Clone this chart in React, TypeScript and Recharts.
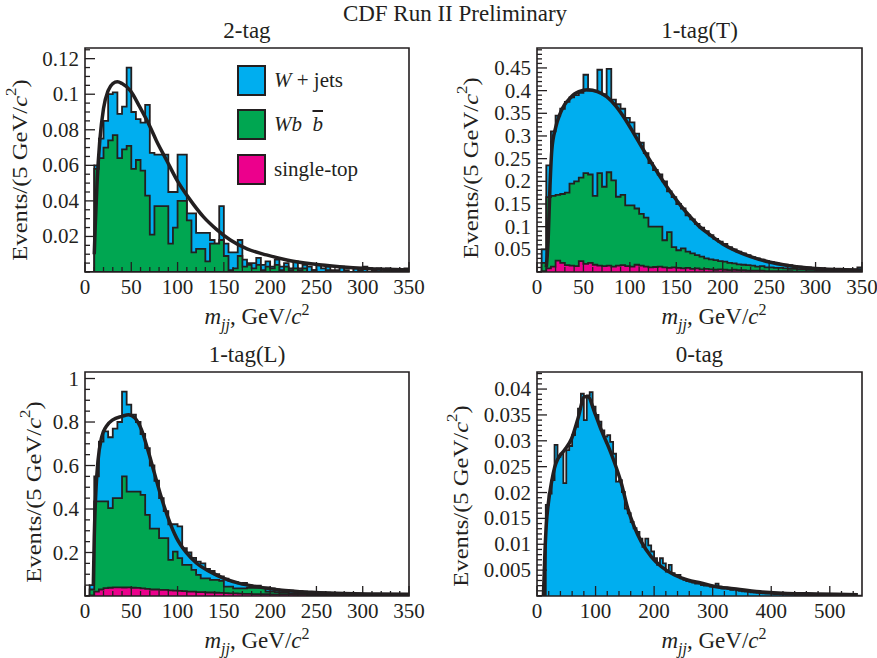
import React from "react";
import { ComposedChart, Area, Line, XAxis, YAxis, ReferenceArea, Legend } from "recharts";

const FONT = '"Liberation Serif", "Times New Roman", serif';
const INK = "#231f20";
const BLUE = "#00aeef";
const GREEN = "#00a651";
const PINK = "#ec008c";

// ---- 2-tag: stacked levels per 5 GeV bin (W+jets top, Wbb top, single-top) ----
const p1Total = [
  0, 0, 0.06, 0.075, 0.085, 0.1, 0.101, 0.089, 0.093, 0.115,
  0.09, 0.086, 0.084, 0.094, 0.067, 0.066, 0.066, 0.066, 0.045, 0.045,
  0.066, 0.066, 0.033, 0.033, 0.022, 0.022, 0.022, 0.018, 0.016, 0.037,
  0.016, 0.011, 0.011, 0.018, 0.007, 0.005, 0.005, 0.008, 0.004, 0.006,
  0.003, 0.007, 0.003, 0.005, 0.002, 0.006, 0.002, 0.004, 0.003, 0.001,
  0.004, 0.002, 0.003, 0.001, 0.001, 0.003, 0.001, 0, 0.002, 0.001,
  0.003, 0, 0.001, 0.002, 0, 0.002, 0, 0.001, 0, 0.002,
];
const p1Wbb = [
  0, 0, 0.058, 0.064, 0.07, 0.074, 0.077, 0.064, 0.069, 0.071,
  0.058, 0.063, 0.057, 0.043, 0.021, 0.037, 0.037, 0.037, 0.016, 0.025,
  0.04, 0.04, 0.029, 0.011, 0.013, 0.013, 0.006, 0.016, 0.016, 0.018,
  0.009, 0.001, 0.002, 0.009, 0.003, 0.004, 0.002, 0.004, 0.001, 0.003,
  0.002, 0.004, 0.001, 0.003, 0.001, 0.002, 0.001, 0.002, 0, 0.001,
  0, 0, 0.001, 0, 0, 0, 0, 0, 0, 0,
  0, 0, 0, 0, 0, 0, 0, 0, 0, 0,
];
const p1Top = new Array(70).fill(0);
const p1Fit: [number, number][] = [
  [10, 0.01], [11, 0.025], [13, 0.05], [16, 0.074], [20, 0.092], [25, 0.102], [30, 0.106],
  [35, 0.107], [40, 0.106], [49, 0.102], [59, 0.093], [70, 0.082], [77, 0.074], [88, 0.063],
  [99, 0.052], [113, 0.041], [128, 0.031], [142, 0.024], [157, 0.018], [175, 0.013],
  [196, 0.0096], [218, 0.0068], [247, 0.0045], [275, 0.003], [304, 0.0019], [350, 0.0011],
];

// ---- 1-tag(T) ----
const p2Total = [
  0, 0.05, 0.235, 0.31, 0.345, 0.36, 0.375, 0.385, 0.39, 0.395,
  0.435, 0.4, 0.4, 0.446, 0.392, 0.448, 0.38, 0.37, 0.36, 0.34,
  0.33, 0.305, 0.285, 0.262, 0.24, 0.225, 0.215, 0.2, 0.178, 0.165,
  0.15, 0.14, 0.125, 0.116, 0.106, 0.098, 0.09, 0.081, 0.073, 0.067,
  0.062, 0.055, 0.05, 0.045, 0.041, 0.037, 0.033, 0.03, 0.027, 0.024,
  0.022, 0.02, 0.018, 0.016, 0.015, 0.013, 0.012, 0.011, 0.01, 0.009,
  0.008, 0.008, 0.007, 0.006, 0.006, 0.005, 0.006, 0.005, 0.004, 0.01,
];
const p2Wbb = [
  0, 0.02, 0.165, 0.168, 0.17, 0.172, 0.175, 0.195, 0.2, 0.208,
  0.218, 0.215, 0.168, 0.218, 0.188, 0.22, 0.202, 0.166, 0.17, 0.147,
  0.147, 0.14, 0.128, 0.12, 0.1, 0.1, 0.1, 0.07, 0.088, 0.055,
  0.048, 0.052, 0.045, 0.041, 0.037, 0.034, 0.03, 0.028, 0.026, 0.024,
  0.023, 0.02, 0.019, 0.017, 0.016, 0.015, 0.014, 0.012, 0.013, 0.01,
  0.01, 0.009, 0.009, 0.008, 0.007, 0.007, 0.006, 0.006, 0.005, 0.005,
  0.004, 0.004, 0.004, 0.003, 0.003, 0.003, 0.003, 0.003, 0.003, 0.003,
];
const p2Top = [
  0, 0.002, 0.008, 0.012, 0.025, 0.02, 0.015, 0.014, 0.013, 0.024,
  0.018, 0.02, 0.016, 0.014, 0.013, 0.014, 0.012, 0.014, 0.015, 0.013,
  0.012, 0.016, 0.014, 0.012, 0.01, 0.011, 0.012, 0.01, 0.009, 0.01,
  0.009, 0.008, 0.009, 0.007, 0.008, 0.006, 0.007, 0.006, 0.005, 0.006,
  0.005, 0.004, 0.005, 0.004, 0.004, 0.003, 0.003, 0.003, 0.003, 0.002,
  0.002, 0.002, 0.002, 0.002, 0.002, 0.001, 0.001, 0.001, 0.001, 0.001,
  0.001, 0.001, 0.001, 0.001, 0.001, 0.001, 0.001, 0.001, 0.001, 0.001,
];
const p2Fit: [number, number][] = [
  [10, 0.01], [12, 0.07], [14, 0.19], [16, 0.27], [20, 0.318], [25, 0.35], [30, 0.37],
  [35, 0.382], [40, 0.392], [45, 0.398], [55, 0.402], [65, 0.398], [75, 0.387], [85, 0.366],
  [95, 0.337], [105, 0.303], [115, 0.268], [125, 0.235], [135, 0.203], [145, 0.173],
  [155, 0.146], [165, 0.122], [175, 0.1], [185, 0.084], [200, 0.062], [215, 0.046],
  [230, 0.034], [250, 0.022], [270, 0.0145], [290, 0.0095], [310, 0.0065], [330, 0.0052], [350, 0.0045],
];

// ---- 1-tag(L) ----
const p3Total = [
  0, 0.05, 0.55, 0.71, 0.757, 0.73, 0.77, 0.8, 0.94, 0.88,
  0.834, 0.8, 0.745, 0.68, 0.6, 0.53, 0.45, 0.39, 0.33, 0.33,
  0.32, 0.22, 0.2, 0.175, 0.158, 0.15, 0.125, 0.115, 0.1, 0.09,
  0.08, 0.07, 0.065, 0.058, 0.06, 0.05, 0.045, 0.048, 0.04, 0.04,
  0.035, 0.03, 0.028, 0.027, 0.025, 0.022, 0.022, 0.02, 0.019, 0.018,
  0.017, 0.016, 0.015, 0.014, 0.014, 0.013, 0.012, 0.012, 0.011, 0.011,
  0.01, 0.01, 0.009, 0.009, 0.009, 0.008, 0.008, 0.008, 0.007, 0.007,
];
const p3Wbb = [
  0, 0.03, 0.435, 0.435, 0.435, 0.404, 0.45, 0.45, 0.55, 0.48,
  0.48, 0.48, 0.465, 0.373, 0.31, 0.31, 0.266, 0.266, 0.166, 0.204,
  0.174, 0.143, 0.143, 0.12, 0.097, 0.081, 0.081, 0.074, 0.074, 0.07,
  0.043, 0.043, 0.035, 0.035, 0.035, 0.038, 0.038, 0.038, 0.036, 0.02,
  0.02, 0.018, 0.015, 0.014, 0.012, 0.011, 0.011, 0.01, 0.009, 0.009,
  0.008, 0.008, 0.007, 0.007, 0.007, 0.006, 0.006, 0.006, 0.005, 0.005,
  0.005, 0.005, 0.004, 0.004, 0.004, 0.004, 0.004, 0.003, 0.003, 0.003,
];
const p3Top = [
  0, 0.003, 0.02, 0.03, 0.036, 0.038, 0.04, 0.04, 0.039, 0.04,
  0.038, 0.037, 0.035, 0.033, 0.03, 0.03, 0.028, 0.028, 0.026, 0.025,
  0.024, 0.022, 0.02, 0.02, 0.018, 0.018, 0.016, 0.016, 0.015, 0.014,
  0.013, 0.012, 0.012, 0.011, 0.01, 0.01, 0.009, 0.009, 0.008, 0.008,
  0.007, 0.007, 0.006, 0.006, 0.006, 0.005, 0.005, 0.005, 0.004, 0.004,
  0.004, 0.004, 0.003, 0.003, 0.003, 0.003, 0.003, 0.003, 0.003, 0.003,
  0.003, 0.002, 0.002, 0.002, 0.002, 0.002, 0.002, 0.002, 0.002, 0.002,
];
const p3Fit: [number, number][] = [
  [9, 0.05], [10, 0.27], [12, 0.5], [14, 0.62], [18, 0.73], [23, 0.78], [30, 0.81],
  [40, 0.826], [47, 0.834], [54, 0.818], [61, 0.765], [68, 0.67], [75, 0.565], [82, 0.46],
  [90, 0.357], [99, 0.266], [110, 0.197], [120, 0.153], [135, 0.112], [150, 0.081],
  [167, 0.058], [185, 0.043], [210, 0.028], [245, 0.017], [280, 0.011], [315, 0.009], [350, 0.0077],
];

// ---- 0-tag (W+jets only), 5 GeV bins up to 555 ----
const p4Total = [
  0, 0, 0, 0.0176, 0.0198, 0.0224, 0.0292, 0.0269, 0.0275, 0.0218,
  0.0282, 0.029, 0.0311, 0.0327, 0.0362, 0.0391, 0.034, 0.0388, 0.0394, 0.0366,
  0.035, 0.0337, 0.032, 0.0308, 0.0311, 0.0298, 0.0275, 0.0221, 0.0224, 0.0201,
  0.0169, 0.016, 0.0143, 0.0131, 0.0124, 0.0111, 0.0095, 0.0111, 0.0098, 0.0086,
  0.0073, 0.006, 0.0073, 0.0063, 0.0047, 0.006, 0.0044, 0.0041, 0.0041, 0.0034,
  0.0031, 0.0029, 0.0028, 0.0026, 0.0024, 0.0024, 0.0021, 0.002, 0.0021, 0.0018,
  0.0019, 0.0024, 0.0018, 0.0015, 0.0016, 0.0014, 0.0012, 0.0013, 0.0011, 0.001,
  0.0009, 0.00085, 0.0008, 0.0007, 0.00065, 0.0006, 0.00055, 0.0005, 0.00048, 0.00045,
  0.0004, 0.00038, 0.00035, 0.00033, 0.0003, 0.00028, 0.00027, 0.00025, 0.00023, 0.00022,
  0.0002, 0.0002, 0.00018, 0.00017, 0.00016, 0.00015, 0.00014, 0.00014, 0.00013, 0.00012,
  0.00012, 0.0001, 0.0001, 0.0001, 0.0001, 0.0001, 0.0001, 0.00009, 0.00009, 0.00008,
  0.00008,
];
const p4Fit: [number, number][] = [
  [11, 0.0002], [13.6, 0.0086], [16, 0.014], [19, 0.0176], [25, 0.0221], [30, 0.0248],
  [36, 0.0266], [47, 0.0282], [59, 0.0304], [70, 0.0343], [81, 0.0385], [87, 0.0385],
  [98, 0.0356], [110, 0.032], [121, 0.0291], [132, 0.0259], [144, 0.0218], [155, 0.0169],
  [166, 0.0134], [178, 0.0105], [195, 0.0076], [212, 0.0057], [234, 0.0041], [257, 0.0031],
  [280, 0.0025], [302, 0.0019], [336, 0.0014], [381, 0.0008], [427, 0.0005], [478, 0.0004], [548, 0.00026],
];

// axis labels
const xMajor350 = [0, 50, 100, 150, 200, 250, 300, 350];
const xMajor555 = [0, 100, 200, 300, 400, 500];
const p1YMajor = [0.02, 0.04, 0.06, 0.08, 0.1, 0.12];
const p2YMajor = [0.05, 0.1, 0.15, 0.2, 0.25, 0.3, 0.35, 0.4, 0.45];
const p3YMajor = [0.2, 0.4, 0.6, 0.8, 1];
const p4YMajor = [0.005, 0.01, 0.015, 0.02, 0.025, 0.03, 0.035, 0.04];

const legendItems = [
  { name: "W+jets", color: BLUE },
  { name: "Wbb", color: GREEN },
  { name: "single-top", color: PINK },
];

function histRows(width: number, series: Record<string, number[]>) {
  const keys = Object.keys(series);
  const n = series[keys[0]].length;
  const rows: any[] = [];
  for (let i = 0; i <= n; i++) {
    const row: any = { x: i * width };
    keys.forEach((k) => (row[k] = series[k][Math.min(i, n - 1)]));
    rows.push(row);
  }
  return rows;
}

const fitRows = (pts: [number, number][]) => pts.map(([x, y]) => ({ x, fit: y }));

function tickList(max: number, step: number) {
  const out: number[] = [];
  for (let i = 0; i * step <= max + 1e-9; i++) out.push(+(i * step).toFixed(6));
  return out;
}

const fmt = (v: number) => String(+v.toFixed(4));
const isMajor = (list: number[], v: number) => list.some((m) => Math.abs(m - v) < 1e-9);

function LegendBox() {
  const rows = [
    { top: 0, color: BLUE, label: <><i>W</i> + jets</> },
    { top: 44, color: GREEN, label: <><i>Wb</i>&nbsp;&nbsp;<i style={{ textDecoration: "overline" }}>b</i></> },
    { top: 89, color: PINK, label: <>single-top</> },
  ];
  return (
    <div style={{ position: "relative", width: 160, height: 122, fontFamily: FONT, fontSize: 21, color: INK }}>
      {rows.map((r, i) => (
        <div key={legendItems[i].name}>
          <div style={{ position: "absolute", left: 0, top: r.top, width: 25, height: 27, background: r.color, border: `2px solid ${INK}` }} />
          <div style={{ position: "absolute", left: 37, top: r.top + 2, lineHeight: "26px", whiteSpace: "nowrap" }}>{r.label}</div>
        </div>
      ))}
    </div>
  );
}

type PanelProps = {
  left: number; top: number; width: number; height: number;
  plotLeft: number; plotRight: number; plotTop: number; plotBottom: number;
  rows: any[]; fit: { x: number; fit: number }[];
  layers: { key: string; color: string }[];
  xDomain: [number, number]; xMajor: number[]; xMinor: number;
  yDomain: [number, number]; yMajor: number[]; yMinor: number;
  title: string; yTitle: [number, number]; xTitle: [number, number];
  legend?: boolean;
};

function Panel(p: PanelProps) {
  const XH = 60;
  const xTicks = tickList(p.xDomain[1], p.xMinor);
  const yTicks = tickList(p.yDomain[1], p.yMinor);
  const yTick = (t: any) => {
    const v = t.payload.value;
    const major = isMajor(p.yMajor, v);
    return (
      <g>
        <line x1={p.plotLeft} x2={p.plotLeft + (major ? 10 : 5)} y1={t.y} y2={t.y} stroke={INK} strokeWidth={1.3} />
        {major && (
          <text x={p.plotLeft - 6} y={t.y} textAnchor="end" dominantBaseline="central" fontFamily={FONT} fontSize={21} fill={INK}>
            {fmt(v)}
          </text>
        )}
      </g>
    );
  };
  const xTick = (t: any) => {
    const v = t.payload.value;
    const major = isMajor(p.xMajor, v);
    return (
      <g>
        <line x1={t.x} x2={t.x} y1={p.plotBottom} y2={p.plotBottom - (major ? 10 : 5)} stroke={INK} strokeWidth={1.3} />
        {major && (
          <text x={t.x} y={p.plotBottom + 15} textAnchor="middle" dominantBaseline="central" fontFamily={FONT} fontSize={21} fill={INK}>
            {fmt(v)}
          </text>
        )}
      </g>
    );
  };
  const [yx, yy] = p.yTitle;
  const [xx, xy] = p.xTitle;
  return (
    <div style={{ position: "absolute", left: p.left, top: p.top, width: p.width, height: p.height }}>
      <ComposedChart
        width={p.width}
        height={p.height}
        data={p.rows}
        margin={{ top: p.plotTop, right: p.width - p.plotRight, bottom: p.height - p.plotBottom - XH, left: 0 }}
      >
        <XAxis
          type="number"
          dataKey="x"
          domain={p.xDomain}
          ticks={xTicks}
          interval={0}
          height={XH}
          allowDataOverflow
          axisLine={false}
          tickLine={false}
          tick={xTick}
          label={{
            content: () => (
              <text x={xx} y={xy} textAnchor="middle" fontFamily={FONT} fontSize={23} fill={INK}>
                <tspan fontStyle="italic">m</tspan>
                <tspan fontStyle="italic" fontSize={16} dy={6}>jj</tspan>
                <tspan dy={-6}>, GeV/</tspan>
                <tspan fontStyle="italic">c</tspan>
                <tspan fontSize={16} dy={-9}>2</tspan>
              </text>
            ),
          }}
        />
        <YAxis
          type="number"
          domain={p.yDomain}
          ticks={yTicks}
          interval={0}
          width={p.plotLeft}
          allowDataOverflow
          axisLine={false}
          tickLine={false}
          tick={yTick}
          label={{
            content: () => (
              <text transform={`translate(${yx} ${yy}) rotate(-90) scale(1.12 1)`} x={0} y={0} textAnchor="middle" dominantBaseline="central" fontFamily={FONT} fontSize={22} fill={INK}>
                Events/(5 GeV/<tspan fontStyle="italic">c</tspan>
                <tspan fontSize={15} dy={-9}>2</tspan>
                <tspan dy={9}>)</tspan>
              </text>
            ),
          }}
        />
        {p.layers.map((l) => (
          <Area
            key={l.key}
            type="stepAfter"
            dataKey={l.key}
            fill={l.color}
            fillOpacity={1}
            stroke={INK}
            strokeWidth={1.8}
            dot={false}
            activeDot={false}
            isAnimationActive={false}
          />
        ))}
        <Line data={p.fit} type="monotone" dataKey="fit" stroke={INK} strokeWidth={3.5} dot={false} activeDot={false} isAnimationActive={false} />
        <ReferenceArea x1={p.xDomain[0]} x2={p.xDomain[1]} y1={p.yDomain[0]} y2={p.yDomain[1]} fill="none" stroke={INK} strokeWidth={1.6} />
        {p.legend && (
          <Legend
            layout="vertical"
            align="center"
            verticalAlign="middle"
            wrapperStyle={{ left: 237 - p.left, top: 65 - p.top, width: 160 }}
            content={() => <LegendBox />}
          />
        )}
      </ComposedChart>
      <div style={{ position: "absolute", left: p.plotLeft, width: p.plotRight - p.plotLeft, top: p.plotTop - 30, textAlign: "center", fontFamily: FONT, fontSize: 23, color: INK, lineHeight: "26px" }}>
        {p.title}
      </div>
    </div>
  );
}

export default function App() {
  const three = [
    { key: "total", color: BLUE },
    { key: "wbb", color: GREEN },
    { key: "top", color: PINK },
  ];
  return (
    <div style={{ position: "absolute", left: 0, top: 0, width: 877, height: 658, background: "#fff", overflow: "hidden" }}>
      <div style={{ position: "absolute", left: 255, width: 400, top: 1, textAlign: "center", fontFamily: FONT, fontSize: 23, color: INK, lineHeight: "26px" }}>
        CDF Run II Preliminary
      </div>
      <Panel
        left={0} top={0} width={430} height={340}
        plotLeft={85} plotRight={409} plotTop={48} plotBottom={272}
        rows={histRows(5, { total: p1Total, wbb: p1Wbb, top: p1Top })}
        fit={fitRows(p1Fit)} layers={three}
        xDomain={[0, 350]} xMajor={xMajor350} xMinor={10}
        yDomain={[0, 0.126]} yMajor={p1YMajor} yMinor={0.005}
        title="2-tag" yTitle={[19, 170]} xTitle={[257, 324]} legend
      />
      <Panel
        left={440} top={0} width={437} height={340}
        plotLeft={97} plotRight={422} plotTop={48} plotBottom={272}
        rows={histRows(5, { total: p2Total, wbb: p2Wbb, top: p2Top })}
        fit={fitRows(p2Fit)} layers={three}
        xDomain={[0, 350]} xMajor={xMajor350} xMinor={10}
        yDomain={[0, 0.494]} yMajor={p2YMajor} yMinor={0.01}
        title="1-tag(T)" yTitle={[30, 168]} xTitle={[274, 324]}
      />
      <Panel
        left={0} top={324} width={430} height={334}
        plotLeft={85} plotRight={409} plotTop={48} plotBottom={272}
        rows={histRows(5, { total: p3Total, wbb: p3Wbb, top: p3Top })}
        fit={fitRows(p3Fit)} layers={three}
        xDomain={[0, 350]} xMajor={xMajor350} xMinor={10}
        yDomain={[0, 1.03]} yMajor={p3YMajor} yMinor={0.05}
        title="1-tag(L)" yTitle={[33, 168]} xTitle={[257, 324]}
      />
      <Panel
        left={440} top={324} width={437} height={334}
        plotLeft={97} plotRight={422} plotTop={48} plotBottom={272}
        rows={histRows(5, { total: p4Total })}
        fit={fitRows(p4Fit)} layers={[{ key: "total", color: BLUE }]}
        xDomain={[0, 555]} xMajor={xMajor555} xMinor={20}
        yDomain={[0, 0.0433]} yMajor={p4YMajor} yMinor={0.001}
        title="0-tag" yTitle={[20, 172]} xTitle={[274, 324]}
      />
    </div>
  );
}
